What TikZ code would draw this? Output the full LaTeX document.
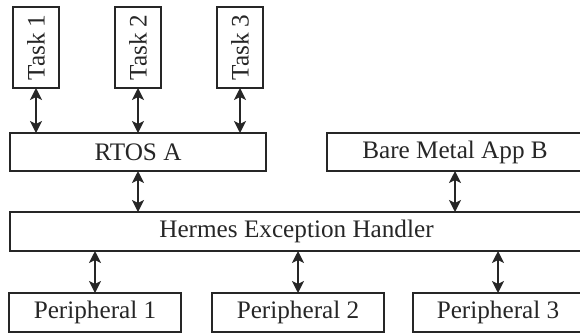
\documentclass[tikz,border=0pt]{standalone}
\usepackage{fontspec}
\setmainfont{Liberation Serif}
\usepackage{graphicx}
\usetikzlibrary{arrows.meta}
\begin{document}
\begin{tikzpicture}[x=1pt,y=-1pt,
  box/.style={draw=black!85, line width=1.6pt, inner sep=0pt, outer sep=0pt,
    font=\fontsize{25.2}{28}\selectfont, text=black!85},
  link/.style={line width=1.6pt, draw=black!85,
    {Stealth[length=12pt,width=12pt,inset=3pt]}-{Stealth[length=12pt,width=12pt,inset=3pt]}}
]
\useasboundingbox (0,0) rectangle (580,333);
% tasks
\node[box, minimum width=46pt, minimum height=81pt] (t1) at (36,47.5) {\rotatebox{90}{Task 1}};
\node[box, minimum width=46pt, minimum height=81pt] (t2) at (138,47.5) {\rotatebox{90}{Task 2}};
\node[box, minimum width=46pt, minimum height=81pt] (t3) at (240,47.5) {\rotatebox{90}{Task 3}};
% middle layer
\node[box, minimum width=256pt, minimum height=38pt] (rtos) at (138,152) {RTOS A};
\node[box, minimum width=256pt, minimum height=38pt] (bare) at (455,152) {Bare Metal App B};
% handler
\node[box, minimum width=573pt, minimum height=39pt] (herm) at (296.5,231.5) {Hermes Exception Handler};
% peripherals
\node[box, minimum width=172pt, minimum height=39pt] (p1) at (95,312.5) {Peripheral 1};
\node[box, minimum width=172pt, minimum height=39pt] (p2) at (298,312.5) {Peripheral 2};
\node[box, minimum width=170pt, minimum height=39pt] (p3) at (498,312.5) {Peripheral 3};
% connectors
\draw[link] (t1.south) -- (t1.south |- rtos.north);
\draw[link] (t2.south) -- (t2.south |- rtos.north);
\draw[link] (t3.south) -- (t3.south |- rtos.north);
\draw[link] (rtos.south) -- (rtos.south |- herm.north);
\draw[link] (bare.south) -- (bare.south |- herm.north);
\draw[link] (p1.north |- herm.south) -- (p1.north);
\draw[link] (p2.north |- herm.south) -- (p2.north);
\draw[link] (p3.north |- herm.south) -- (p3.north);
\end{tikzpicture}
\end{document}
